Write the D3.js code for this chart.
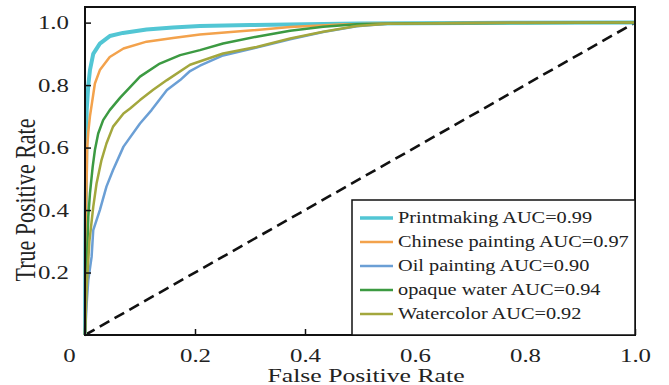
<!DOCTYPE html>
<html lang="en">
<head>
<meta charset="UTF-8">
<title>ROC curves</title>
<script src="https://cdn.jsdelivr.net/npm/d3@7"></script>
<style>
  body { margin: 0; background: #fff; }
  text { font-family: "Liberation Serif", "Times New Roman", serif; fill: #222; }
</style>
</head>
<body>
<div id="chart"></div>
<script>
// series, legend order
const names = ["Printmaking AUC=0.99", "Chinese painting AUC=0.97", "Oil painting AUC=0.90",
  "opaque water AUC=0.94", "Watercolor AUC=0.92"];
const colors = ["#52c6d4", "#f3a24c", "#6b9fd5", "#3c9a42", "#a3a73d"];
const widths = [4, 2.5, 2.5, 2.5, 2.5];

const fprPrint = [0, 0.001, 0.003, 0.006, 0.009, 0.015, 0.027, 0.045, 0.069, 0.112, 0.16, 0.209, 0.3, 0.4, 0.5, 0.7, 1];
const tprPrint = [0, 0.35, 0.72, 0.80, 0.848, 0.90, 0.933, 0.957, 0.967, 0.978, 0.984, 0.989, 0.992, 0.995, 0.997, 0.999, 1];

const fprChinese = [0, 0.002, 0.004, 0.006, 0.009, 0.015, 0.018, 0.027, 0.045, 0.07, 0.112, 0.16, 0.209, 0.282, 0.373, 0.464, 0.55, 0.7, 1];
const tprChinese = [0, 0.40, 0.60, 0.65, 0.70, 0.77, 0.805, 0.848, 0.89, 0.917, 0.939, 0.951, 0.962, 0.972, 0.986, 0.994, 0.997, 0.999, 1];

const fprOil = [0, 0.003, 0.006, 0.012, 0.015, 0.027, 0.039, 0.051, 0.07, 0.1, 0.121, 0.149, 0.173, 0.191, 0.209, 0.251, 0.312, 0.373, 0.433, 0.494, 0.55, 0.7, 1];
const tprOil = [0, 0.10, 0.176, 0.25, 0.336, 0.40, 0.475, 0.528, 0.603, 0.677, 0.72, 0.784, 0.816, 0.845, 0.862, 0.895, 0.92, 0.947, 0.97, 0.988, 0.996, 0.999, 1];

const fprOpaque = [0, 0.002, 0.006, 0.009, 0.014, 0.018, 0.024, 0.033, 0.045, 0.064, 0.1, 0.136, 0.173, 0.209, 0.251, 0.312, 0.373, 0.433, 0.494, 0.6, 0.8, 1];
const tprOpaque = [0, 0.15, 0.379, 0.453, 0.539, 0.592, 0.645, 0.688, 0.72, 0.76, 0.827, 0.869, 0.896, 0.912, 0.933, 0.955, 0.974, 0.987, 0.995, 0.998, 0.999, 1];

const fprWater = [0, 0.003, 0.008, 0.015, 0.021, 0.03, 0.039, 0.051, 0.07, 0.082, 0.1, 0.124, 0.149, 0.191, 0.251, 0.312, 0.373, 0.433, 0.494, 0.55, 0.7, 1];
const tprWater = [0, 0.15, 0.30, 0.41, 0.485, 0.56, 0.613, 0.667, 0.709, 0.725, 0.752, 0.785, 0.816, 0.865, 0.901, 0.922, 0.949, 0.971, 0.989, 0.996, 0.999, 1];

const xTicks = [0, 0.2, 0.4, 0.6, 0.8, 1.0];
const yTicks = [0.2, 0.4, 0.6, 0.8, 1.0];

const fprs = [fprPrint, fprChinese, fprOil, fprOpaque, fprWater];
const tprs = [tprPrint, tprChinese, tprOil, tprOpaque, tprWater];

const W = 669, H = 385;
const margin = { top: 7, right: 34, bottom: 50, left: 85 };
const width = W - margin.left - margin.right;
const height = H - margin.top - margin.bottom;
const sx = 1.38; // text in the picture is stretched sideways

const svg = d3.select("#chart").append("svg")
  .attr("width", W)
  .attr("height", H);
const g = svg.append("g")
  .attr("transform", `translate(${margin.left},${margin.top})`);

const x = d3.scaleLinear().domain([0, 1]).range([0, width]);
const y = d3.scaleLinear().domain([0, 1.05]).range([height, 0]);

// chance line
g.append("line")
  .attr("x1", x(0)).attr("y1", y(0))
  .attr("x2", x(1)).attr("y2", y(1))
  .attr("stroke", "#111")
  .attr("stroke-width", 2.6)
  .attr("stroke-dasharray", "11,6");

const line = d3.line()
  .x(d => x(d[0]))
  .y(d => y(d[1]));

names.forEach((n, i) => {
  const pts = fprs[i].map((f, j) => [f, tprs[i][j]]);
  g.append("path")
    .datum(pts)
    .attr("fill", "none")
    .attr("stroke", colors[i])
    .attr("stroke-width", widths[i])
    .attr("stroke-linejoin", "round")
    .attr("d", line);
});

// axes with inward ticks
const xAxis = g.append("g")
  .attr("transform", `translate(0,${height})`)
  .call(d3.axisBottom(x).tickValues(xTicks).tickSize(-6).tickPadding(0)
    .tickFormat(d => d === 0 ? "0" : d3.format(".1f")(d)));
xAxis.select(".domain").remove();
xAxis.selectAll("line").attr("stroke", "#111").attr("stroke-width", 1.5);
xAxis.selectAll("text")
  .attr("y", 0).attr("dy", 0)
  .attr("font-size", 18)
  .attr("fill", "#222")
  .attr("transform", (d) => `translate(${d === 0 ? -16 : 0},27) scale(${sx},1)`);
xAxis.selectAll(".tick").filter(d => d === 0).select("line").remove();

const yAxis = g.append("g")
  .call(d3.axisLeft(y).tickValues(yTicks).tickSize(-6).tickPadding(0)
    .tickFormat(d3.format(".1f")));
yAxis.select(".domain").remove();
yAxis.selectAll("line").attr("stroke", "#111").attr("stroke-width", 1.5);
yAxis.selectAll("text")
  .attr("x", 0).attr("dy", "0.35em")
  .attr("font-size", 18)
  .attr("fill", "#222")
  .attr("transform", `translate(-16,0) scale(${sx},1)`);

// frame
g.append("rect")
  .attr("width", width).attr("height", height)
  .attr("fill", "none")
  .attr("stroke", "#111")
  .attr("stroke-width", 2);

// axis titles
g.append("text")
  .attr("text-anchor", "middle")
  .attr("font-size", 18)
  .attr("transform", `translate(${366 - margin.left},${382 - margin.top}) scale(${1.43},1)`)
  .text("False Positive Rate");

g.append("text")
  .attr("text-anchor", "middle")
  .attr("font-size", 22)
  .attr("transform", `translate(${35 - margin.left},${200 - margin.top}) rotate(-90) scale(1,1.3)`)
  .text("True Positive Rate");

// legend
const lx = 352 - margin.left, ly = 200 - margin.top;
const legend = g.append("g");
legend.append("rect")
  .attr("x", lx).attr("y", ly)
  .attr("width", width - lx).attr("height", height - ly)
  .attr("fill", "#fff")
  .attr("stroke", "#111")
  .attr("stroke-width", 1.5);

names.forEach((n, i) => {
  const yy = ly + 18 + i * 24;
  legend.append("line")
    .attr("x1", lx + 8).attr("x2", lx + 41)
    .attr("y1", yy).attr("y2", yy)
    .attr("stroke", colors[i])
    .attr("stroke-width", i === 0 ? 3.5 : 2.5);
  legend.append("text")
    .attr("font-size", 16)
    .attr("dy", "0.33em")
    .attr("transform", `translate(${lx + 46},${yy}) scale(1.27,1)`)
    .text(n);
});
</script>
</body>
</html>
